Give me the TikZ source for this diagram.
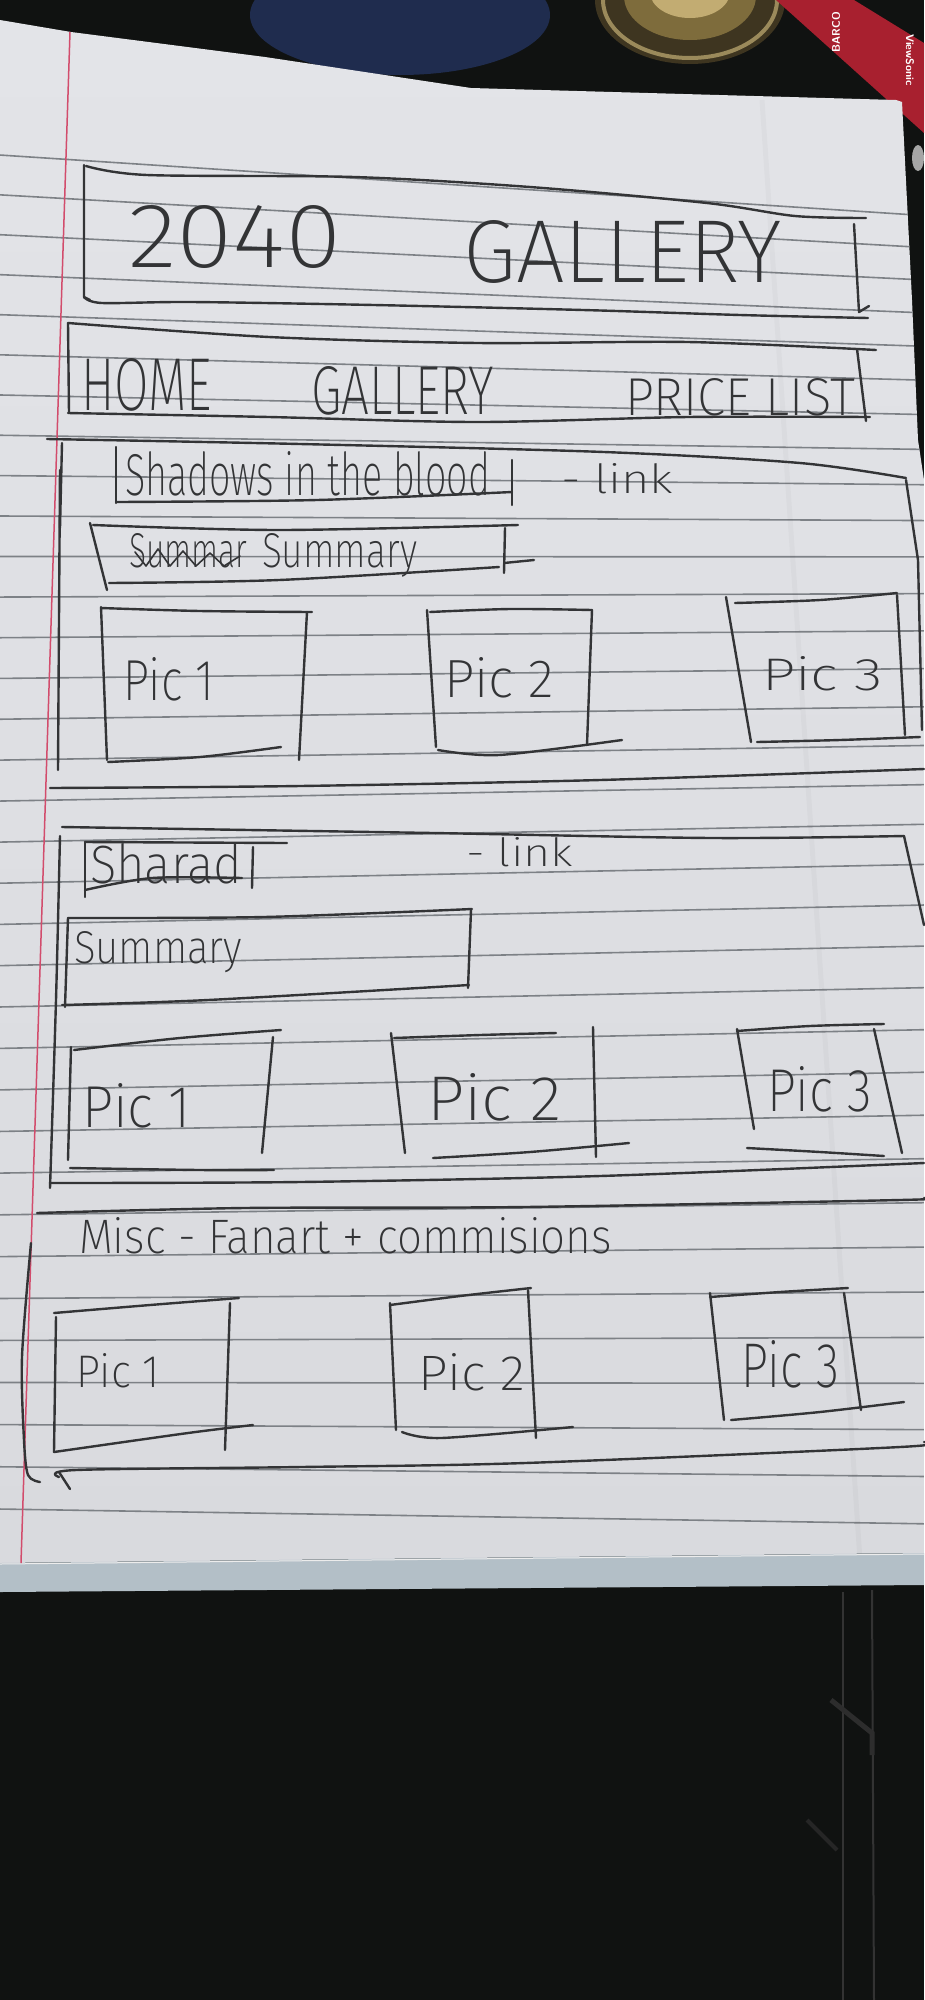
\documentclass[tikz,border=0pt]{standalone}
\usepackage{fontspec}
\newfontfamily\hand{Fira Sans ExtraLight}
\definecolor{bgdark}{HTML}{101211}
\definecolor{navy}{HTML}{1F2C4E}
\definecolor{jarbody}{HTML}{3E3520}
\definecolor{jarmid}{HTML}{7E6C3C}
\definecolor{jarlight}{HTML}{C2AC72}
\definecolor{penred}{HTML}{A8202F}
\definecolor{paperT}{HTML}{E3E4E8}
\definecolor{paperB}{HTML}{D9DADE}
\definecolor{stackedge}{HTML}{B3BFC7}
\definecolor{rule}{HTML}{7D8186}
\definecolor{margin}{HTML}{D24C6C}
\definecolor{ink}{HTML}{333436}
% handwritten label squeezed to a given width and height
\newcommand\handtext[3]{\resizebox{#1pt}{#2pt}{\hand #3}}
\begin{document}
\begin{tikzpicture}[x=1pt,y=-1pt,
  pen/.style={draw=ink, line width=2.4pt, line cap=round, line join=round},
  thinpen/.style={draw=ink, line width=1.6pt, line cap=round, line join=round},
  ruled/.style={draw=rule, line width=1.6pt},
  lbl/.style={inner sep=0pt, outer sep=0pt, anchor=base west, text=ink},
  pentext/.style={text=white, inner sep=0pt, font=\sffamily\bfseries\addfontfeatures{LetterSpace=12}\fontsize{11}{11}\selectfont}]
\useasboundingbox (0,0) rectangle (924,2000);
\fill[bgdark] (0,0) rectangle (924,2000);

% objects on the desk above the sheet
\fill[navy] (400,15) ellipse (150 and 60);
\fill[jarbody] (690,0) ellipse (95 and 64);
\draw[jarlight!80!black, line width=4pt] (690,0) ellipse (87 and 58);
\fill[jarmid] (690,-4) ellipse (66 and 44);
\fill[jarlight] (690,-8) ellipse (40 and 26);
\fill[penred] (776,0) -- (854,0) -- (924,43) -- (924,133) -- cycle;
\node[pentext, rotate=-90] (vs) at (910,60) {ViewSonic};
\node[pentext, rotate=90] (barco) at (836,32) {BARCO};
\fill[gray!70] (918,158) ellipse (6 and 13);

% the sheet of ruled paper
\shade[top color=paperT, bottom color=paperB] (0,20) -- (71,32) -- (265,57) -- (471,88) -- (896,100) -- (902,102)
  -- (912,300) -- (918,440) -- (924,480) -- (924,1553) -- (0,1563) -- cycle;
\fill[stackedge] (0,1563) -- (924,1553) -- (924,1585) -- (0,1592) -- cycle;
\draw[white!85!gray, line width=1pt] (0,1564) -- (924,1554);
\begin{scope}
  \clip (0,20) -- (71,32) -- (265,57) -- (471,88) -- (896,100) -- (902,102)
  -- (912,300) -- (918,440) -- (924,480) -- (924,1553) -- (0,1563) -- cycle;
  \foreach \k in {0,...,33}{
    \pgfmathsetmacro\yl{157+39.5*\k+0.045*\k*\k}
    \pgfmathsetmacro\yr{209+32.6*\k+0.218*\k*\k}
    \pgfmathsetmacro\m{(\yr-\yl)/794}
    \draw[ruled] (0,{\yl-30*\m}) -- (924,{\yl+894*\m});
  }
  \draw[black, opacity=0.025, line width=5pt] (762,100) -- (860,1560);
\end{scope}
\draw[margin, line width=1.5pt] (70,32) -- (21,1563);

% strap on the chair below the sheet
\draw[gray!40!black, line width=2pt] (843,1592) -- (843,2000);
\draw[gray!40!black, line width=2pt] (872,1590) -- (874,2000);
\draw[gray!35!black, line width=5pt] (831,1700) -- (872,1733) -- (872,1755);
\draw[gray!30!black, line width=4pt] (807,1820) -- (837,1850);

% ---- header: site title ----
\draw[pen] plot[smooth] coordinates {(86,166) (147,175) (354,177) (530,187) (707,203) (795,216) (866,218)};
\draw[pen] (84,165) -- (84,297) -- (90,300);
\draw[pen] plot[smooth] coordinates {(84,297) (102,303) (191,302) (374,305) (583,310) (740,315) (868,318)};
\draw[pen] (854,224) -- (859,312) -- (869,306);
\node[lbl] (title2040) at (128,267) {\handtext{214}{62}{2040}};
\node[lbl] (titlegal) at (463,282) {\handtext{319}{62}{GALLERY}};

% ---- navigation bar ----
\draw[pen] plot[smooth] coordinates {(68,323) (269,337) (478,343) (688,342) (876,350)};
\draw[pen] (68,323) -- (69,413);
\draw[pen] plot[smooth] coordinates {(68,413) (269,417) (478,422) (688,417) (870,417)};
\draw[pen] (857,349) -- (866,421);
\node[lbl] (navhome) at (81,410) {\handtext{131}{52}{HOME}};
\node[lbl] (navgal) at (311,414) {\handtext{183}{48}{GALLERY}};
\node[lbl] (navprice) at (625,415) {\handtext{230}{37}{PRICE LIST}};

% ---- section 1 ----
\draw[pen] plot[smooth] coordinates {(47,439) (300,444) (604,452) (800,463) (906,478)};
\draw[pen] (906,480) -- (918,560) -- (922,730);
\draw[pen] (62,443) -- (60,528);
\draw[pen] (60,470) -- (58,770);
\draw[pen] plot[smooth] coordinates {(50,788) (300,786) (600,780) (924,769)};
% heading box
\draw[pen] (116,447) -- (116,503);
\draw[pen] plot[smooth] coordinates {(116,502) (317,500) (512,492)};
\draw[pen] (512,460) -- (512,505);
\node[lbl] (s1head) at (125,495) {\handtext{365}{44}{Shadows in the blood}};
\node[lbl] (s1link) at (561,493) {\handtext{112}{30}{- link}};
% summary box
\draw[pen] plot[smooth] coordinates {(93,525) (279,530) (518,525)};
\draw[pen] (90,523) -- (107,590);
\draw[pen] (505,528) -- (504,573);
\draw[pen] (504,563) -- (534,560);
\draw[pen] plot[smooth] coordinates {(109,583) (279,580) (499,567)};
\node[lbl] (s1sumx) at (129,567) {\handtext{118}{34}{Summar}};
\node[lbl] (s1sum) at (262,567) {\handtext{155}{34}{Summary}};
\draw[thinpen] (135,552) -- (146,566) -- (158,549) -- (170,566) -- (183,551) -- (196,566) -- (210,553) -- (224,566) -- (240,556);
% pictures
\draw[pen] (101,607) -- (107,760);
\draw[pen] plot[smooth] coordinates {(101,608) (200,611) (312,612)};
\draw[pen] (307,612) -- (299,760);
\draw[pen] plot[smooth] coordinates {(108,762) (200,757) (281,747)};
\node[lbl] (s1p1) at (123,700) {\handtext{91}{43}{Pic 1}};
\draw[pen] (427,610) -- (436,747);
\draw[pen] plot[smooth] coordinates {(430,612) (510,609) (592,610)};
\draw[pen] (592,610) -- (587,745);
\draw[pen] plot[smooth] coordinates {(438,750) (499,755) (622,740)};
\node[lbl] (s1p2) at (444,697) {\handtext{110}{40}{Pic 2}};
\draw[pen] (726,597) -- (751,742);
\draw[pen] plot[smooth] coordinates {(735,603) (820,600) (897,593)};
\draw[pen] (897,595) -- (905,735);
\draw[pen] plot[smooth] coordinates {(757,742) (840,740) (920,737)};
\node[lbl] (s1p3) at (762,690) {\handtext{121}{34}{Pic 3}};

% ---- section 2 ----
\draw[pen] plot[smooth] coordinates {(62,827) (433,833) (713,838) (904,836)};
\draw[pen] (904,836) -- (924,925);
\draw[pen] plot[smooth] coordinates {(60,836) (56,1000) (50,1188)};
\draw[pen] plot[smooth] coordinates {(50,1183) (300,1182) (600,1176) (924,1163)};
\draw[pen] (85,842) -- (85,897);
\draw[pen] (85,842) -- (287,843);
\draw[pen] (253,847) -- (252,888);
\draw[pen] plot[smooth] coordinates {(85,890) (152,878) (242,878)};
\node[lbl] (s2head) at (90,883) {\handtext{152}{40}{Sharad}};
\node[lbl] (s2link) at (466,866) {\handtext{107}{29}{- link}};
\draw[pen] (68,918) -- (65,1007);
\draw[pen] plot[smooth] coordinates {(68,918) (264,917) (472,909)};
\draw[pen] (471,910) -- (468,988);
\draw[pen] plot[smooth] coordinates {(62,1005) (208,1000) (469,985)};
\node[lbl] (s2sum) at (74,963) {\handtext{168}{32}{Summary}};
\draw[pen] (71,1047) -- (68,1160);
\draw[pen] plot[smooth] coordinates {(74,1050) (180,1038) (281,1030)};
\draw[pen] (273,1037) -- (262,1153);
\draw[pen] plot[smooth] coordinates {(70,1168) (200,1170) (274,1170)};
\node[lbl] (s2p1) at (82,1127) {\handtext{109}{44}{Pic 1}};
\draw[pen] (391,1033) -- (405,1153);
\draw[pen] plot[smooth] coordinates {(394,1038) (480,1035) (556,1033)};
\draw[pen] (593,1027) -- (596,1157);
\draw[pen] plot[smooth] coordinates {(433,1158) (530,1152) (629,1143)};
\node[lbl] (s2p2) at (427,1120) {\handtext{135}{47}{Pic 2}};
\draw[pen] (737,1029) -- (754,1129);
\draw[pen] plot[smooth] coordinates {(737,1031) (810,1026) (884,1024)};
\draw[pen] (874,1029) -- (902,1153);
\draw[pen] plot[smooth] coordinates {(747,1148) (820,1152) (884,1156)};
\node[lbl] (s2p3) at (767,1111) {\handtext{105}{45}{Pic 3}};

% ---- section 3 ----
\draw[pen] plot[smooth] coordinates {(37,1213) (244,1208) (525,1207) (900,1200) (924,1198)};
\draw[pen] plot[smooth] coordinates {(31,1243) (22,1357) (24,1440) (28,1475) (40,1482)};
\draw[pen] plot[smooth] coordinates {(59,1477) (76,1470) (301,1467) (525,1463) (900,1447) (924,1442)};
\draw[pen] (59,1472) -- (70,1489);
\node[lbl] (s3head) at (79,1253) {\handtext{533}{36}{Misc - Fanart + commisions}};
\draw[pen] (56,1317) -- (54,1452);
\draw[pen] plot[smooth] coordinates {(54,1313) (150,1305) (239,1298)};
\draw[pen] (230,1303) -- (225,1450);
\draw[pen] plot[smooth] coordinates {(54,1452) (188,1433) (253,1425)};
\node[lbl] (s3p1) at (76,1387) {\handtext{84}{34}{Pic 1}};
\draw[pen] (390,1303) -- (396,1430);
\draw[pen] plot[smooth] coordinates {(390,1305) (460,1296) (531,1288)};
\draw[pen] (528,1290) -- (536,1438);
\draw[pen] plot[smooth] coordinates {(402,1432) (441,1438) (573,1427)};
\node[lbl] (s3p2) at (418,1390) {\handtext{107}{37}{Pic 2}};
\draw[pen] (710,1293) -- (724,1420);
\draw[pen] plot[smooth] coordinates {(710,1297) (780,1292) (848,1288)};
\draw[pen] (844,1293) -- (861,1410);
\draw[pen] plot[smooth] coordinates {(731,1420) (820,1412) (904,1402)};
\node[lbl] (s3p3) at (741,1387) {\handtext{98}{47}{Pic 3}};
\end{tikzpicture}
\end{document}
